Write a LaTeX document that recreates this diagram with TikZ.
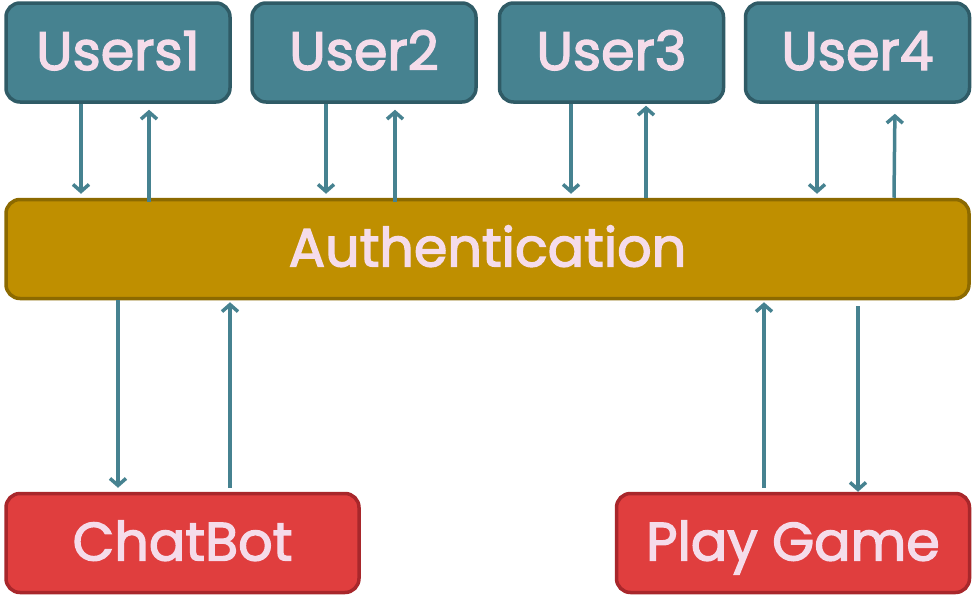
\documentclass[tikz,border=0pt]{standalone}
\usepackage{fontspec}
\setmainfont{Poppins}
\newfontfamily\boxfont[FakeBold=2.5]{Poppins}
\usepackage{xcolor}
\usetikzlibrary{arrows.meta, positioning, calc}
\definecolor{userfill}{HTML}{468290}
\definecolor{userline}{HTML}{2F5B66}
\definecolor{authfill}{HTML}{BF8F00}
\definecolor{authline}{HTML}{8C6A00}
\definecolor{appfill}{HTML}{E03E3E}
\definecolor{appline}{HTML}{A8272B}
\definecolor{labeltext}{HTML}{F5DCEA}
\begin{document}
\begin{tikzpicture}[
    x=1pt, y=-1pt,
    font=\boxfont\fontsize{54}{60}\selectfont,
    box/.style={draw, line width=3.5pt, rounded corners=14pt, text=labeltext, minimum height=99pt, inner sep=0pt, text height=45pt, text depth=10pt},
    usr/.style={box, fill=userfill, draw=userline, minimum width=224pt},
    auth/.style={box, fill=authfill, draw=authline, minimum width=963pt},
    app/.style={box, fill=appfill, draw=appline, minimum width=353pt},
    link/.style={draw=userfill, line width=3.5pt, -{Straight Barb[length=7pt, width=16pt, line width=3.5pt]}}
]
    \useasboundingbox (0,0) rectangle (974,613);

    % Users
    \node[usr] (u1) at (118, 52.5) {Users1};
    \node[usr] (u2) at (364, 52.5) {User2};
    \node[usr] (u3) at (611.5, 52.5) {User3};
    \node[usr] (u4) at (857.5, 52.5) {User4};

    % Authentication
    \node[auth] (au) at (487.5, 249) {Authentication};

    % Applications
    \node[app] (cb) at (182.5, 543) {ChatBot};
    \node[app] (pg) at (793, 543) {Play Game};

    % Users <-> Authentication
    \draw[link] ([xshift=-37pt]u1.south) -- ([xshift=-37pt]u1.south |- au.north) [shorten >=4pt];
    \draw[link] ([xshift=31pt]u1.south |- au.north) [shorten <=-4pt, shorten >=6pt] -- ([xshift=31pt]u1.south);
    \draw[link] ([xshift=-38pt]u2.south) -- ([xshift=-38pt]u2.south |- au.north) [shorten >=4pt];
    \draw[link] ([xshift=31pt]u2.south |- au.north) [shorten <=-4pt, shorten >=6pt] -- ([xshift=31pt]u2.south);
    \draw[link] ([xshift=-40.5pt]u3.south) -- ([xshift=-40.5pt]u3.south |- au.north) [shorten >=4pt];
    \draw[link] ([xshift=34.5pt]u3.south |- au.north) [shorten >=2pt] -- ([xshift=34.5pt]u3.south);
    \draw[link] ([xshift=-40.5pt]u4.south) -- ([xshift=-40.5pt]u4.south |- au.north) [shorten >=4pt];
    \draw[link] ([xshift=36.5pt]u4.south |- au.north) [shorten >=10pt] -- ([xshift=37.5pt]u4.south);

    % Authentication <-> Applications
    \draw[link] ([xshift=-64.5pt]cb.north |- au.south) -- ([xshift=-64.5pt]cb.north) [shorten >=4pt];
    \draw[link] ([xshift=47.5pt]cb.north) [shorten <=4pt, shorten >=2pt] -- ([xshift=47.5pt]cb.north |- au.south);
    \draw[link] ([xshift=-29pt]pg.north) [shorten <=4pt, shorten >=2pt] -- ([xshift=-29pt]pg.north |- au.south);
    \draw[link] ([xshift=65pt]pg.north |- au.south) [shorten <=6pt] -- ([xshift=65pt]pg.north);

\end{tikzpicture}
\end{document}
